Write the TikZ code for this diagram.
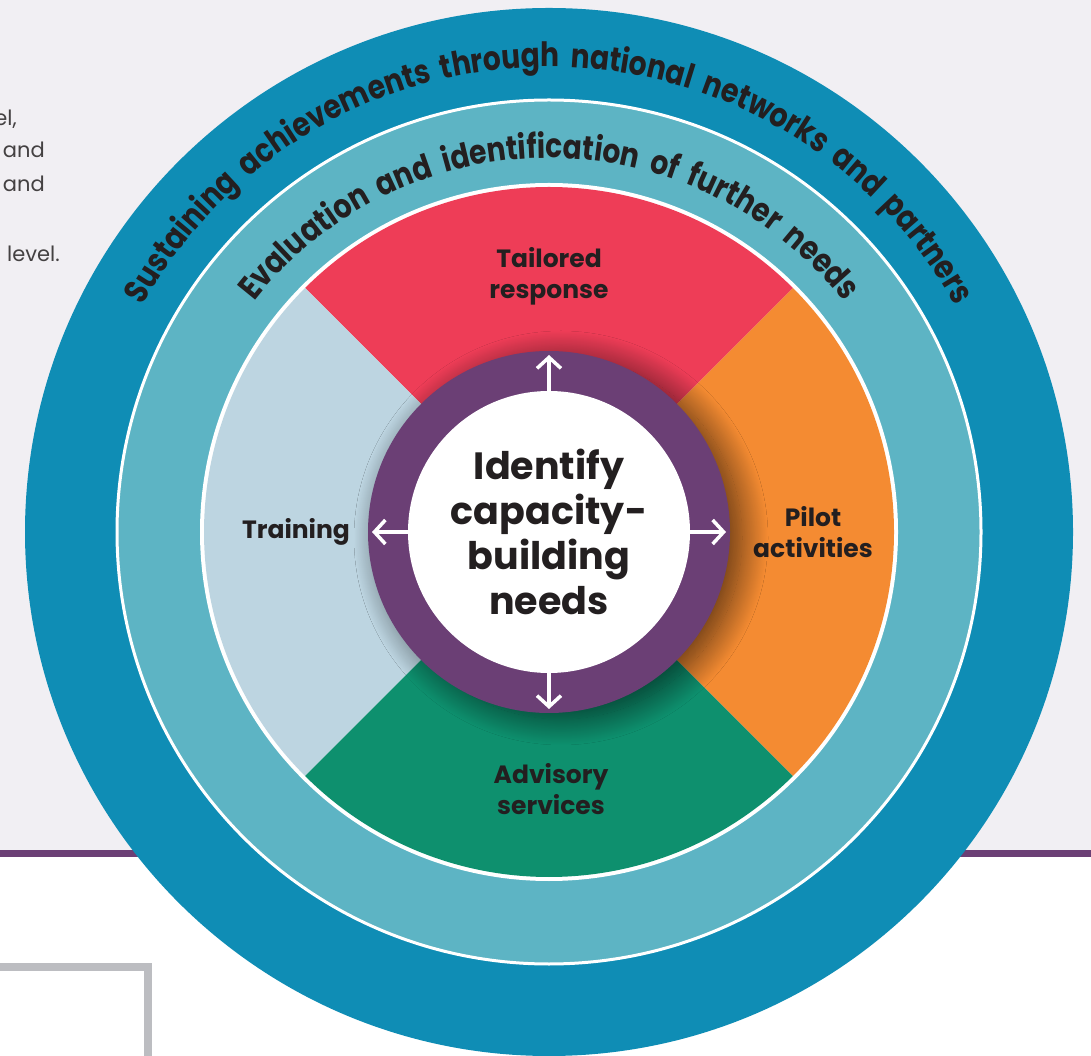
\documentclass[tikz,border=0pt]{standalone}
\usepackage{fontspec}
\setmainfont{Poppins}
\newfontfamily\arcfont[FakeStretch=0.84]{Poppins}
\usepackage{xcolor}
\usetikzlibrary{arrows.meta, decorations.text, shadows.blur}
\definecolor{bg_gray}{RGB}{241, 239, 243}
\definecolor{ring_outer}{RGB}{15, 141, 181}
\definecolor{ring_teal}{RGB}{93, 180, 196}
\definecolor{seg_red}{RGB}{238, 61, 87}
\definecolor{seg_orange}{RGB}{244, 139, 50}
\definecolor{seg_green}{RGB}{14, 144, 110}
\definecolor{seg_pale}{RGB}{189, 213, 225}
\definecolor{core_purple}{RGB}{107, 63, 117}
\definecolor{ink}{RGB}{35, 31, 32}
\definecolor{frame_gray}{RGB}{188, 189, 193}
\newcommand{\arcstyle}{\arcfont\fontsize{33.5}{33.5}\selectfont\bfseries\color{ink}}

\begin{document}
\begin{tikzpicture}[x=1pt, y=1pt,
    seglabel/.style={font=\fontsize{25}{31}\selectfont\bfseries, text=ink, align=center},
    sidetext/.style={font=\fontsize{21}{21}\selectfont, text=ink!85, anchor=base east, inner sep=0},
    spoke/.style={white, line width=3.5pt,
      -{Straight Barb[length=11pt, width=24pt, line width=3.5pt]}}]
  \useasboundingbox (0,0) rectangle (1091,1055);
  \clip (0,0) rectangle (1091,1055);

  % --- Page background ---
  \fill[white] (0,0) rectangle (1091,1055);
  \fill[bg_gray] (0,205) rectangle (1091,1055);
  \fill[core_purple] (0,198) rectangle (1091,205);
  \draw[frame_gray, line width=8pt] (-10,88) -- (148,88) -- (148,-10);

  % --- Text cut off at the left ---
  \node[sidetext] (t1) at (17,929) {el,};
  \node[sidetext] (t2) at (45,897) {and};
  \node[sidetext] (t3) at (45,863) {and};
  \node[sidetext] (t4) at (60,793) {level.};

  \coordinate (c) at (549,523);

  % --- Outer rings ---
  \fill[ring_outer] (c) circle[radius=524];
  \draw[white, line width=3pt, fill=ring_teal] (c) circle[radius=432];
  \fill[white] (c) circle[radius=349];

  % --- Four segments ---
  \foreach \a/\col in {45/seg_red, 135/seg_pale, 225/seg_green, 315/seg_orange} {
    \fill[\col] (c) -- ([shift={(\a:345)}]c)
      arc[start angle=\a, end angle=\a+90, radius=345] -- cycle;
  }

  % --- Curved texts ---
  \path[decorate, decoration={text along path, text align=center,
      text={|\arcstyle|Sustaining{\hspace*{11pt}}achievements{\hspace*{11pt}}through{\hspace*{11pt}}national{\hspace*{11pt}}networks{\hspace*{11pt}}and{\hspace*{11pt}}partners}}]
    ([shift={(172:465)}]c) arc[start angle=172, end angle=8, radius=465];
  \path[decorate, decoration={text along path, text align=center,
      text={|\arcstyle|Evaluation{\hspace*{11pt}}and{\hspace*{11pt}}identification{\hspace*{11pt}}of{\hspace*{11pt}}further{\hspace*{11pt}}needs}}]
    ([shift={(172:374)}]c) arc[start angle=172, end angle=8, radius=374];

  % --- Segment labels ---
  \node[seglabel] (tailored) at (549,779) {Tailored\\response};
  \node[seglabel] (pilot) at (813,523) {Pilot\\activities};
  \node[seglabel] (advisory) at (551,266) {Advisory\\services};
  \node[seglabel] (training) at (296,523) {Training};

  % --- Centre ---
  \node[circle, fill=core_purple, minimum size=362pt, inner sep=0,
        blur shadow={shadow xshift=12pt, shadow yshift=-6pt, shadow blur steps=40,
        shadow blur radius=26pt, shadow opacity=60}] (ring) at (c) {};
  \node[circle, fill=white, minimum size=282pt, inner sep=0, outer sep=0,
        font=\fontsize{38}{45}\selectfont\bfseries, text=ink, align=center]
    (core) at (c) {Identify\\capacity-\\building\\needs};

  % --- Arrows out of the centre ---
  \foreach \a/\side in {90/north, 180/west, 270/south, 0/east} {
    \coordinate (tip\side) at ([shift={(\a:177)}]c);
    \draw[spoke] (core.\side) -- (tip\side);
  }
\end{tikzpicture}
\end{document}
